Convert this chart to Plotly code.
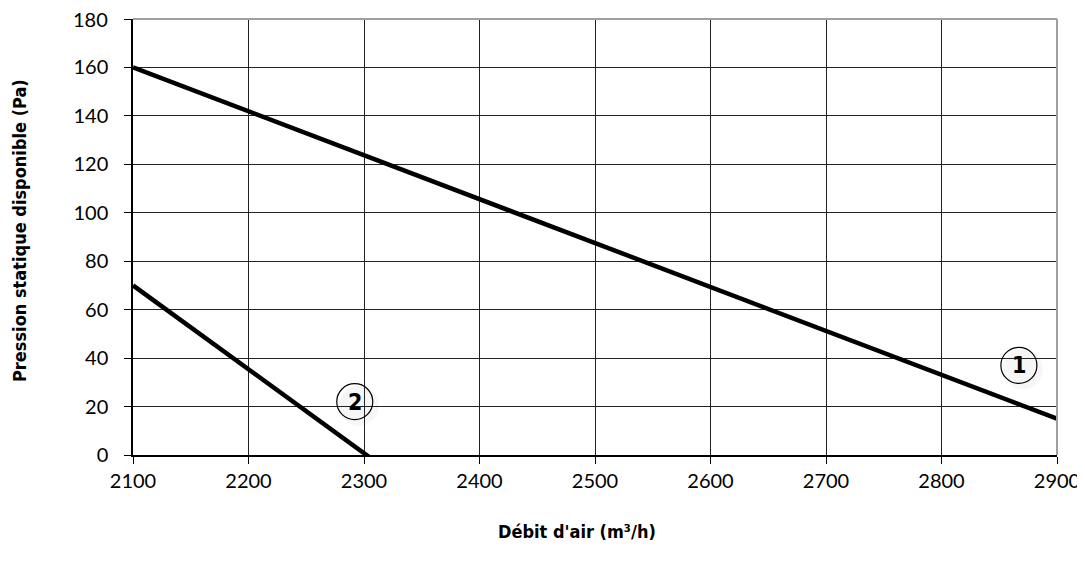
import plotly.graph_objects as go

# Data
curve1_x = [2100, 2900]
curve1_y = [160, 15]
curve2_x = [2100, 2305]
curve2_y = [70, -1]
label_names = ["1", "2"]
label_x = [2867, 2292]
label_y = [37, 22]

x_ticks = [2100, 2200, 2300, 2400, 2500, 2600, 2700, 2800, 2900]
y_ticks = [0, 20, 40, 60, 80, 100, 120, 140, 160, 180]

TITLE_FONT = "DejaVu Sans Condensed"
TICK_FONT = dict(family="Lato", size=20, color="black")

fig = go.Figure()
for xs, ys in [(curve1_x, curve1_y), (curve2_x, curve2_y)]:
    fig.add_trace(go.Scatter(x=xs, y=ys, mode="lines",
                             line=dict(color="black", width=4.5),
                             showlegend=False, hoverinfo="skip"))

shapes = []
for lx, ly in zip(label_x, label_y):
    # soft shadow
    shapes.append(dict(type="circle", xref="x", yref="y", xsizemode="pixel", ysizemode="pixel",
                       xanchor=lx, yanchor=ly, x0=-16, x1=24, y0=-24, y1=16,
                       fillcolor="rgba(0,0,0,0.035)", line=dict(width=0), layer="below"))
    shapes.append(dict(type="circle", xref="x", yref="y", xsizemode="pixel", ysizemode="pixel",
                       xanchor=lx, yanchor=ly, x0=-18, x1=18, y0=-18, y1=18,
                       fillcolor="rgba(0,0,0,0)", line=dict(color="black", width=1.2)))

# gray top and right border
shapes.append(dict(type="line", xref="paper", yref="paper", x0=0, x1=1, y0=1, y1=1,
                   line=dict(color="#a0a0a0", width=2)))
shapes.append(dict(type="line", xref="paper", yref="paper", x0=1, x1=1, y0=0, y1=1,
                   line=dict(color="#a0a0a0", width=2)))

annotations = []
for name, lx, ly in zip(label_names, label_x, label_y):
    annotations.append(dict(x=lx, y=ly, xref="x", yref="y", text="<b>%s</b>" % name,
                            showarrow=False, font=dict(family=TITLE_FONT, size=23, color="black")))

# top y tick label drawn as annotation (the axis hides it at the page edge)
y_ticktext = [str(v) for v in y_ticks]
annotations.append(dict(xref="paper", yref="y", x=0, y=y_ticks[-1], text=y_ticktext[-1],
                        showarrow=False, xanchor="right", yanchor="middle", xshift=-23,
                        font=TICK_FONT))
y_ticktext[-1] = ""

# axis titles as annotations (placed like the reference)
annotations.append(dict(xref="paper", yref="paper", x=(577 - 133) / 924, y=-(531 - 455) / 436,
                        text="<b>Débit d'air (m³/h)</b>", showarrow=False,
                        xanchor="center", yanchor="middle",
                        font=dict(family=TITLE_FONT, size=18, color="black")))
annotations.append(dict(xref="paper", yref="paper", x=-(133 - 19) / 924, y=(455 - 231) / 436,
                        text="<b>Pression statique disponible (Pa)</b>", showarrow=False,
                        textangle=-90, xanchor="center", yanchor="middle",
                        font=dict(family=TITLE_FONT, size=18, color="black")))

fig.update_layout(
    width=1077, height=562,
    margin=dict(l=125, r=28, t=11, b=115),
    paper_bgcolor="white", plot_bgcolor="white",
    shapes=shapes, annotations=annotations,
    xaxis=dict(range=[2100, 2900], tickvals=x_ticks, ticktext=[str(v) for v in x_ticks],
               automargin=False,
               showgrid=True, gridcolor="#222222", gridwidth=1,
               ticks="outside", ticklen=7, tickcolor="black", tickwidth=1,
               showline=True, linecolor="black", linewidth=1.5, zeroline=False,
               tickfont=TICK_FONT),
    yaxis=dict(range=[0, 180], tickvals=y_ticks, ticktext=y_ticktext,
               automargin=False, ticklabelstandoff=12,
               showgrid=True, gridcolor="#222222", gridwidth=1,
               ticks="outside", ticklen=7, tickcolor="black", tickwidth=1,
               showline=True, linecolor="black", linewidth=1.5, zeroline=False,
               tickfont=TICK_FONT),
)

fig.write_html("out.html")
